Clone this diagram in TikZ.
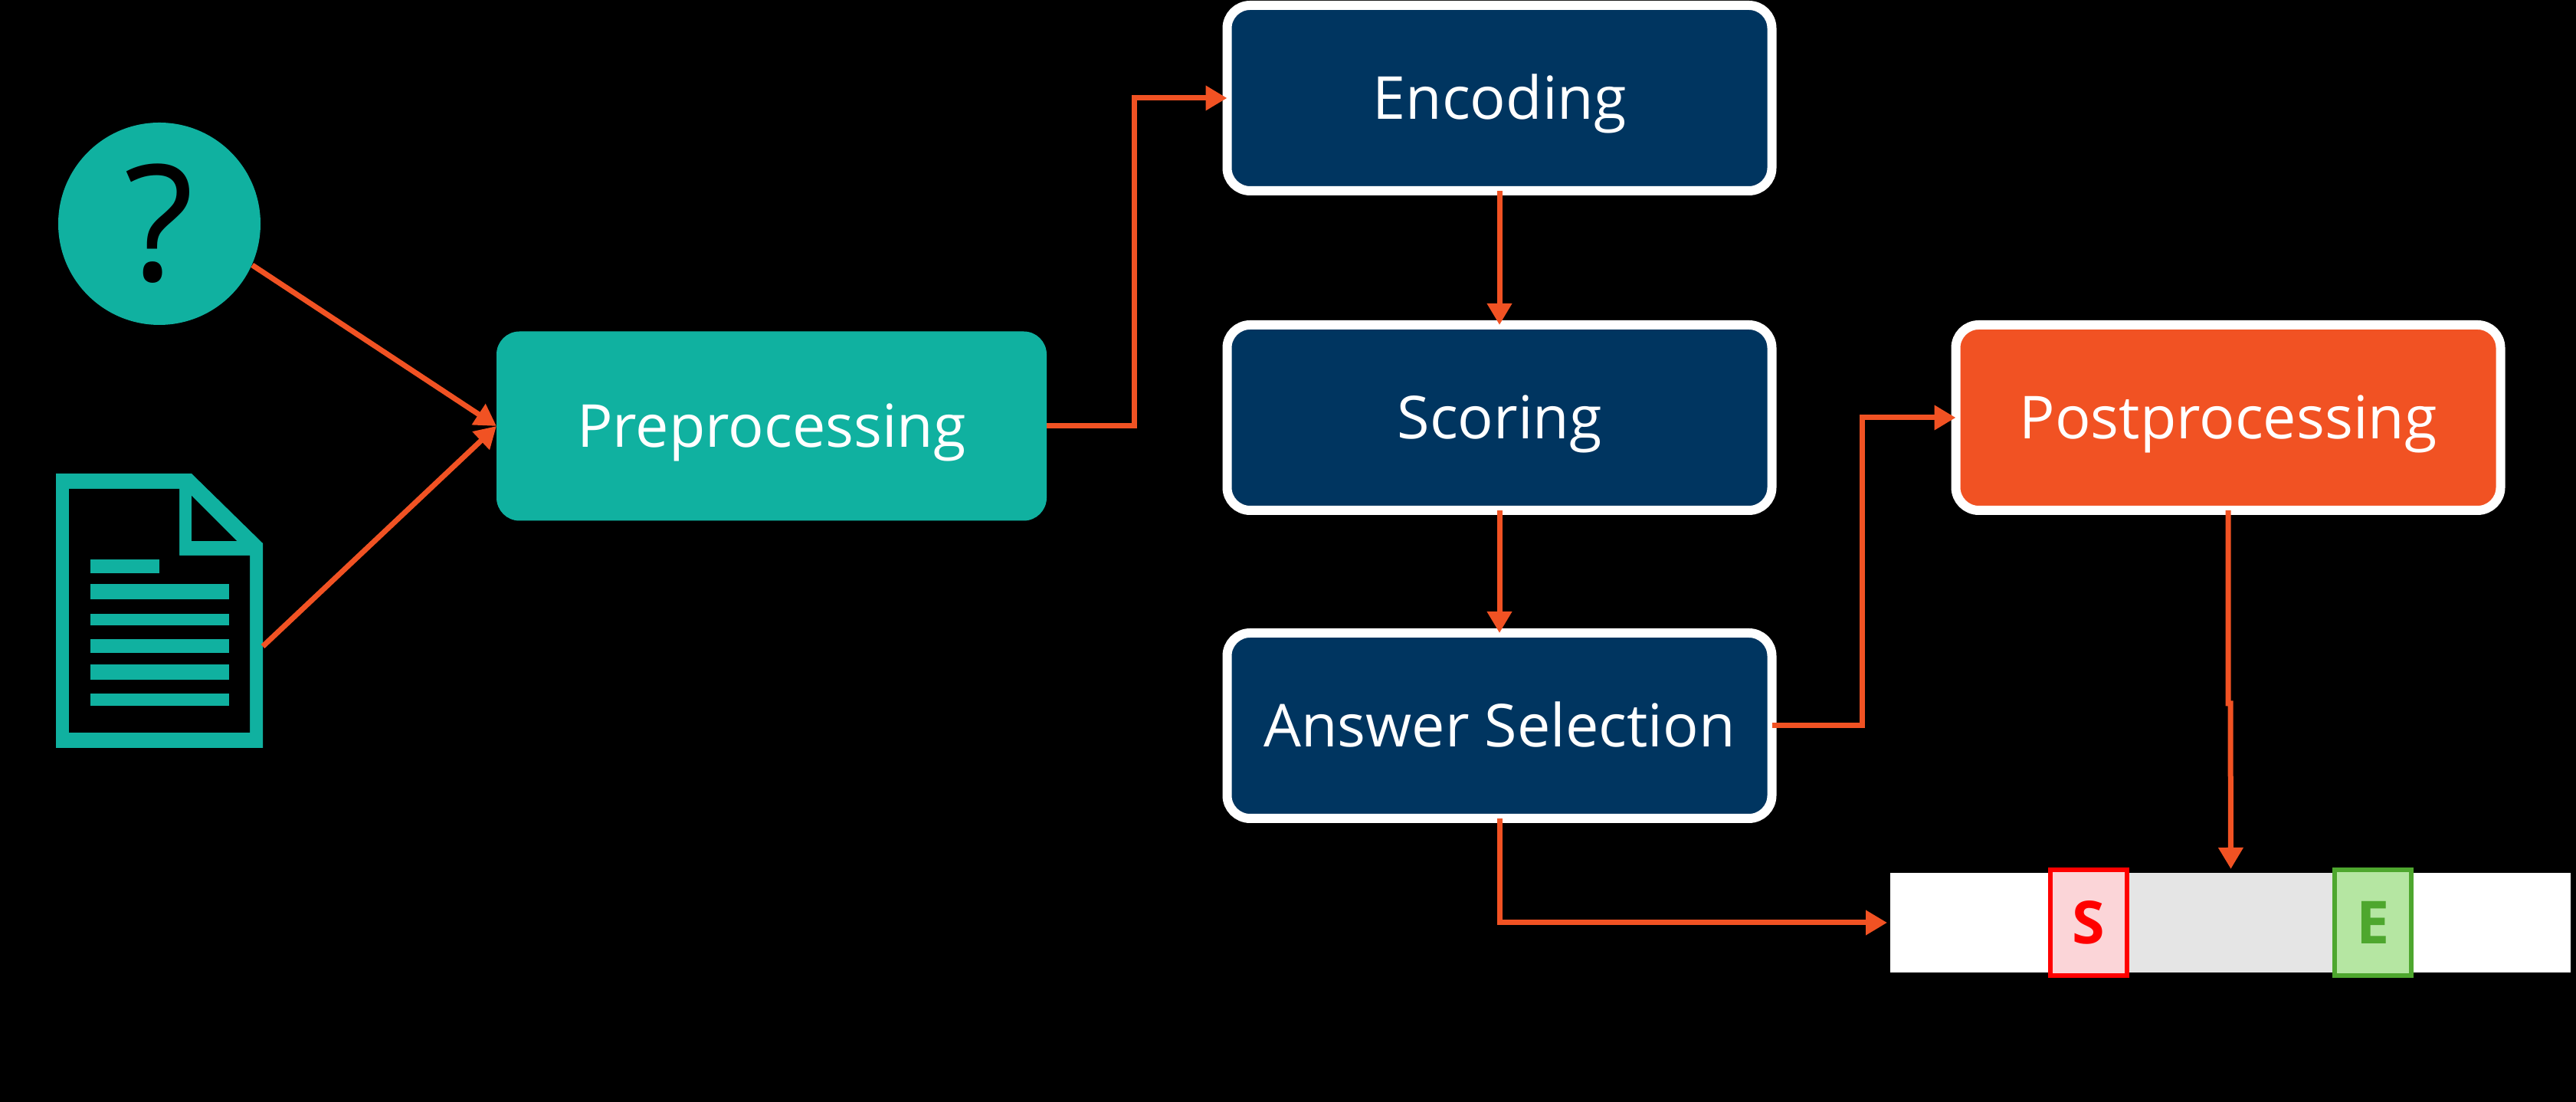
\documentclass[tikz,border=0pt]{standalone}
\usepackage{fontspec}
\setmainfont{Open Sans}
\usetikzlibrary{arrows.meta}
\definecolor{tealbox}{HTML}{10B1A0}
\definecolor{navybox}{HTML}{003560}
\definecolor{orangebox}{HTML}{F15223}
\definecolor{startfill}{HTML}{FBD5D8}
\definecolor{endfill}{HTML}{B5E6A2}
\definecolor{endline}{HTML}{4EA72E}
\tikzset{>={Triangle[length=0.28cm,width=0.31cm]}}
\tikzset{
    flow/.style={draw=orangebox, line width=0.07cm},
    stagebox/.style={rounded corners=0.3cm, outer sep=0pt, text=white, font=\fontsize{22}{22}\selectfont,
        text height=0.55cm, text depth=0pt, minimum width=7.11cm, minimum height=2.42cm},
    framed/.style={stagebox, draw=white, line width=0.12cm},
    tokenbox/.style={outer sep=0pt, line width=0.06cm, minimum width=1.0cm, minimum height=1.38cm,
        font=\fontsize{22}{22}\selectfont\bfseries}
}

\begin{document}
\begin{tikzpicture}
    \fill[black] (0,0) rectangle (33.62,14.38);
    \node[circle, fill=tealbox, minimum size=2.64cm, inner sep=0pt, font=\fontsize{60}{60}\selectfont] (question) at (2.08,11.46) {?};
    \node[minimum width=2.70cm, minimum height=3.58cm, outer sep=0pt] (document) at (2.08,6.41) {};
    \fill[tealbox] (0.73,8.20) -- (2.50,8.20) -- (3.43,7.29) -- (3.43,4.62) -- (0.73,4.62) -- cycle;
    \fill[black] (0.90,8.00) -- (2.34,8.00) -- (2.34,7.13) -- (3.26,7.13) -- (3.26,4.82) -- (0.90,4.82) -- cycle;
    \fill[black] (2.50,7.91) -- (3.09,7.32) -- (2.50,7.32) -- cycle;
    \fill[tealbox] (1.18,7.08) rectangle (2.08,6.90);
    \foreach \top/\bottom in {6.76/6.56, 6.37/6.22, 6.04/5.86, 5.71/5.51, 5.33/5.17}
        \fill[tealbox] (1.18,\top) rectangle (2.99,\bottom);
    \node[stagebox, fill=tealbox, minimum width=7.18cm, minimum height=2.47cm] (prep) at (10.07,8.82) {Preprocessing};
    \node[framed, fill=navybox] (encoding) at (19.57,13.10) {Encoding};
    \node[framed, fill=navybox] (scoring) at (19.57,8.93) {Scoring};
    \node[framed, fill=navybox] (answer) at (19.57,4.91) {Answer Selection};
    \node[framed, fill=orangebox] (post) at (29.08,8.93) {Postprocessing};
    \node[fill=white, outer sep=0pt, minimum width=8.88cm, minimum height=1.30cm] (passage) at (29.11,2.34) {};
    \node[fill=black!10, outer sep=0pt, minimum width=2.65cm, minimum height=1.30cm] (span) at (29.115,2.34) {};
    \node[tokenbox, draw=red, fill=startfill, text=red] (start) at (27.26,2.34) {S};
    \node[tokenbox, draw=endline, fill=endfill, text=endline] (end) at (30.97,2.34) {E};
    \coordinate (jog) at (29.11,5.2);
    \draw[flow, ->] (question.-24) -- (prep.west);
    \draw[flow, ->] (document.-19.6) -- (prep.west);
    \draw[flow, ->] (prep.east) -- (14.80,8.82) |- (encoding.west);
    \draw[flow, ->] (encoding.south) -- (scoring.north);
    \draw[flow, ->] (scoring.south) -- (answer.north);
    \draw[flow, ->] (answer.east) -- (24.30,4.91) |- (post.west);
    \draw[flow, ->] (post.south) -- (post.south |- jog) -- (jog) -- ([yshift=0.05cm]span.north);
    \draw[flow, ->] (answer.south) |- ([xshift=-0.04cm]passage.west);
\end{tikzpicture}
\end{document}
